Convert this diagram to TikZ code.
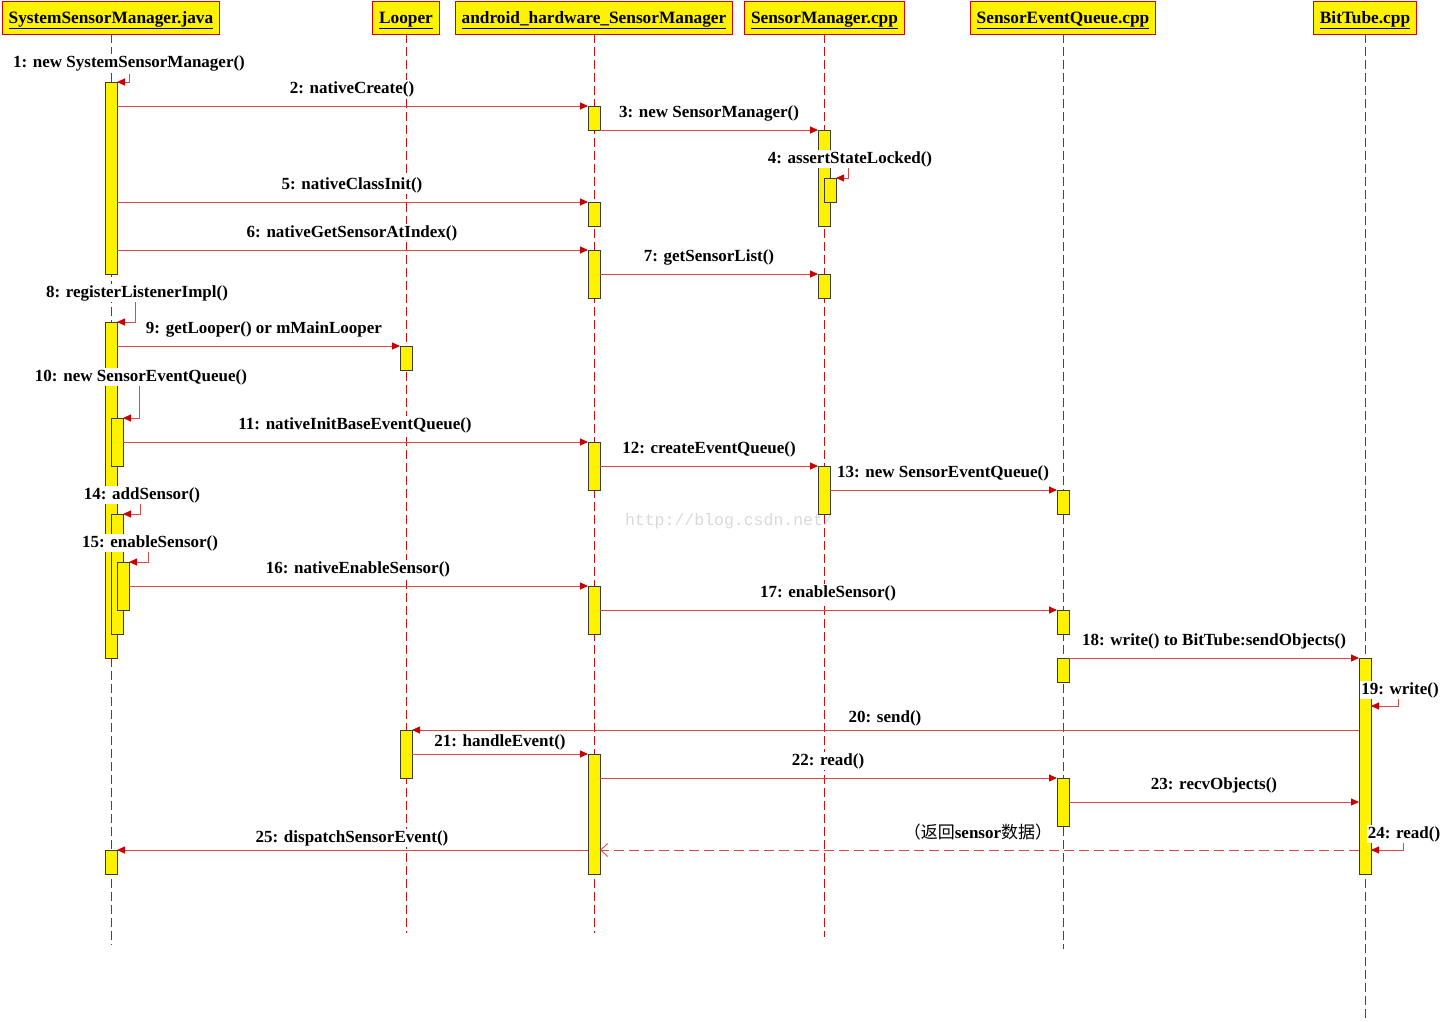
\documentclass[tikz,border=0pt]{standalone}
\usepackage{fontspec}
\setmainfont{Liberation Serif}
\newfontfamily\cjk{Noto Sans CJK SC}
\newfontfamily\wmfont{Liberation Mono}
\usetikzlibrary{arrows.meta}

\definecolor{lifered}{RGB}{200,16,16}
\definecolor{msgred}{RGB}{218,72,72}
\definecolor{tipred}{RGB}{200,0,0}
\definecolor{barline}{RGB}{60,60,40}

\tikzset{
  head/.style={draw=red!85!black, fill=yellow, line width=0.9pt, minimum height=33pt,
    inner xsep=6.5pt, text height=12pt, text depth=1pt,
    font=\fontsize{17.3}{20}\selectfont\bfseries},
  bar/.style={draw=barline, fill=yellow, line width=0.9pt, minimum width=12pt,
    minimum height=#1, inner sep=0pt, outer sep=0pt, anchor=north},
  life/.style={draw=lifered, line width=0.9pt, dash pattern=on 9pt off 4pt},
  msg/.style={draw=msgred, line width=0.9pt, -{Triangle[length=8pt,width=7pt,color=tipred]}},
  ret/.style={draw=msgred, line width=0.9pt, dash pattern=on 10pt off 5pt,
    -{Straight Barb[length=7pt,width=13pt,color=msgred]}},
  lbl/.style={fill=white, inner sep=1pt, yshift=-2pt, font=\fontsize{17}{20}\selectfont\bfseries}
}

\begin{document}
\begin{tikzpicture}[x=1pt,y=-1pt]
  \useasboundingbox (0,0) rectangle (1442,1021);

  % objects
  \node[head] (ssm) at (111,17.5) {\underline{SystemSensorManager.java}};
  \node[head] (lp)  at (406,17.5) {\underline{Looper}};
  \node[head] (ahs) at (594,17.5) {\underline{android\_hardware\_SensorManager}};
  \node[head] (sm)  at (824.5,17.5) {\underline{SensorManager.cpp}};
  \node[head] (seq) at (1063,17.5) {\underline{SensorEventQueue.cpp}};
  \node[head] (bt)  at (1365,17.5) {\underline{BitTube.cpp}};

  % lifelines
  \coordinate (ssmEnd) at (111,945);
  \coordinate (lpEnd)  at (406,933);
  \coordinate (ahsEnd) at (594,933);
  \coordinate (smEnd)  at (824.5,937);
  \coordinate (seqEnd) at (1063,949);
  \coordinate (btEnd)  at (1365,1021);
  \draw[life] (ssm) -- (ssmEnd);
  \draw[life] (lp) -- (lpEnd);
  \draw[life] (ahs) -- (ahsEnd);
  \draw[life] (sm) -- (smEnd);
  \draw[life] (seq) -- (seqEnd);
  \draw[life] (bt) -- (btEnd);

  \node[text=black!15, font=\wmfont\fontsize{16.5}{18}\selectfont] (wm) at (729,521) {http://blog.csdn.net/};

  % activations
  \node[bar=192] (s1)  at (111,82) {};
  \node[bar=336] (s8)  at (111,322) {};
  \node[bar=48]  (s10) at (117,418) {};
  \node[bar=120] (s14) at (117,514) {};
  \node[bar=48]  (s15) at (123,562) {};
  \node[bar=24]  (s25) at (111,850) {};
  \node[bar=24]  (l9)  at (406,346) {};
  \node[bar=48]  (l20) at (406,730) {};
  \node[bar=24]  (a2)  at (594,106) {};
  \node[bar=24]  (a5)  at (594,202) {};
  \node[bar=48]  (a6)  at (594,250) {};
  \node[bar=48]  (a11) at (594,442) {};
  \node[bar=48]  (a16) at (594,586) {};
  \node[bar=120] (a21) at (594,754) {};
  \node[bar=96]  (m3)  at (824,130) {};
  \node[bar=24]  (m4)  at (830,178) {};
  \node[bar=24]  (m7)  at (824,274) {};
  \node[bar=48]  (m12) at (824,466) {};
  \node[bar=24]  (q13) at (1063,490) {};
  \node[bar=24]  (q17) at (1063,610) {};
  \node[bar=24]  (q18) at (1063,658) {};
  \node[bar=48]  (q22) at (1063,778) {};
  \node[bar=216] (b18) at (1365,658) {};

  % messages
  \draw[msg] ([shift={(12,-8)}]s1.north east) |- (s1.north east);
  \draw[msg] (s1.east |- a2.north) -- (a2.north west);
  \draw[msg] (a2.south east) -- (m3.north west);
  \draw[msg] ([shift={(12,-11)}]m4.north east) |- (m4.north east);
  \draw[msg] (s1.east |- a5.north) -- (a5.north west);
  \draw[msg] (s1.east |- a6.north) -- (a6.north west);
  \draw[msg] (a6.east |- m7.north) -- (m7.north west);
  \draw[msg] ([shift={(18,-20)}]s8.north east) |- (s8.north east);
  \draw[msg] (s8.east |- l9.north) -- (l9.north west);
  \draw[msg] ([shift={(16,-32)}]s10.north east) |- (s10.north east);
  \draw[msg] (s10.east |- a11.north) -- (a11.north west);
  \draw[msg] (a11.east |- m12.north) -- (m12.north west);
  \draw[msg] (m12.east |- q13.north) -- (q13.north west);
  \draw[msg] ([shift={(17,-11)}]s14.north east) |- (s14.north east);
  \draw[msg] ([shift={(19,-10)}]s15.north east) |- (s15.north east);
  \draw[msg] (s15.east |- a16.north) -- (a16.north west);
  \draw[msg] (a16.east |- q17.north) -- (q17.north west);
  \draw[msg] (q18.north east) -- (b18.north west);
  \coordinate (b19) at ([yshift=-48pt]b18.north east);
  \draw[msg] ([shift={(27,-8)}]b19) |- (b19);
  \draw[msg] (b18.west |- l20.north) -- (l20.north east);
  \draw[msg] (l20.east |- a21.north) -- (a21.north west);
  \draw[msg] (a21.east |- q22.north) -- (q22.north west);
  \draw[msg] (q22.east) -- (b18.west |- q22.east);
  \coordinate (b24) at (b18.east |- s25.north);
  \draw[msg] ([shift={(32,-8)}]b24) |- (b24);
  \draw[ret] (b18.west |- s25.north) -- (a21.east |- s25.north);
  \draw[msg] (a21.west |- s25.north) -- (s25.north east);

  % labels
  \node[lbl] (t1)  at (129,61)  {1: new SystemSensorManager()};
  \node[lbl] (t2)  at (352,87)  {2: nativeCreate()};
  \node[lbl] (t3)  at (709,111) {3: new SensorManager()};
  \node[lbl] (t4)  at (850,157) {4: assertStateLocked()};
  \node[lbl] (t5)  at (352,183) {5: nativeClassInit()};
  \node[lbl] (t6)  at (352,231) {6: nativeGetSensorAtIndex()};
  \node[lbl] (t7)  at (709,255) {7: getSensorList()};
  \node[lbl] (t8)  at (137,291) {8: registerListenerImpl()};
  \node[lbl] (t9)  at (264,327) {9: getLooper() or mMainLooper};
  \node[lbl] (t10) at (141,375) {10: new SensorEventQueue()};
  \node[lbl] (t11) at (355,423) {11: nativeInitBaseEventQueue()};
  \node[lbl] (t12) at (709,447) {12: createEventQueue()};
  \node[lbl] (t13) at (943,471) {13: new SensorEventQueue()};
  \node[lbl] (t14) at (142,493) {14: addSensor()};
  \node[lbl] (t15) at (150,541) {15: enableSensor()};
  \node[lbl] (t16) at (358,567) {16: nativeEnableSensor()};
  \node[lbl] (t17) at (828,591) {17: enableSensor()};
  \node[lbl] (t18) at (1214,639) {18: write() to BitTube:sendObjects()};
  \node[lbl] (t19) at (1400,688) {19: write()};
  \node[lbl] (t20) at (885,716) {20: send()};
  \node[lbl] (t21) at (500,740) {21: handleEvent()};
  \node[lbl] (t22) at (828,759) {22: read()};
  \node[lbl] (t23) at (1214,783) {23: recvObjects()};
  \node[lbl] (tr)  at (978,830) {{\cjk\mdseries （返回}sensor{\cjk\mdseries 数据）}};
  \node[lbl] (t24) at (1404,832) {24: read()};
  \node[lbl] (t25) at (352,836) {25: dispatchSensorEvent()};
\end{tikzpicture}
\end{document}
